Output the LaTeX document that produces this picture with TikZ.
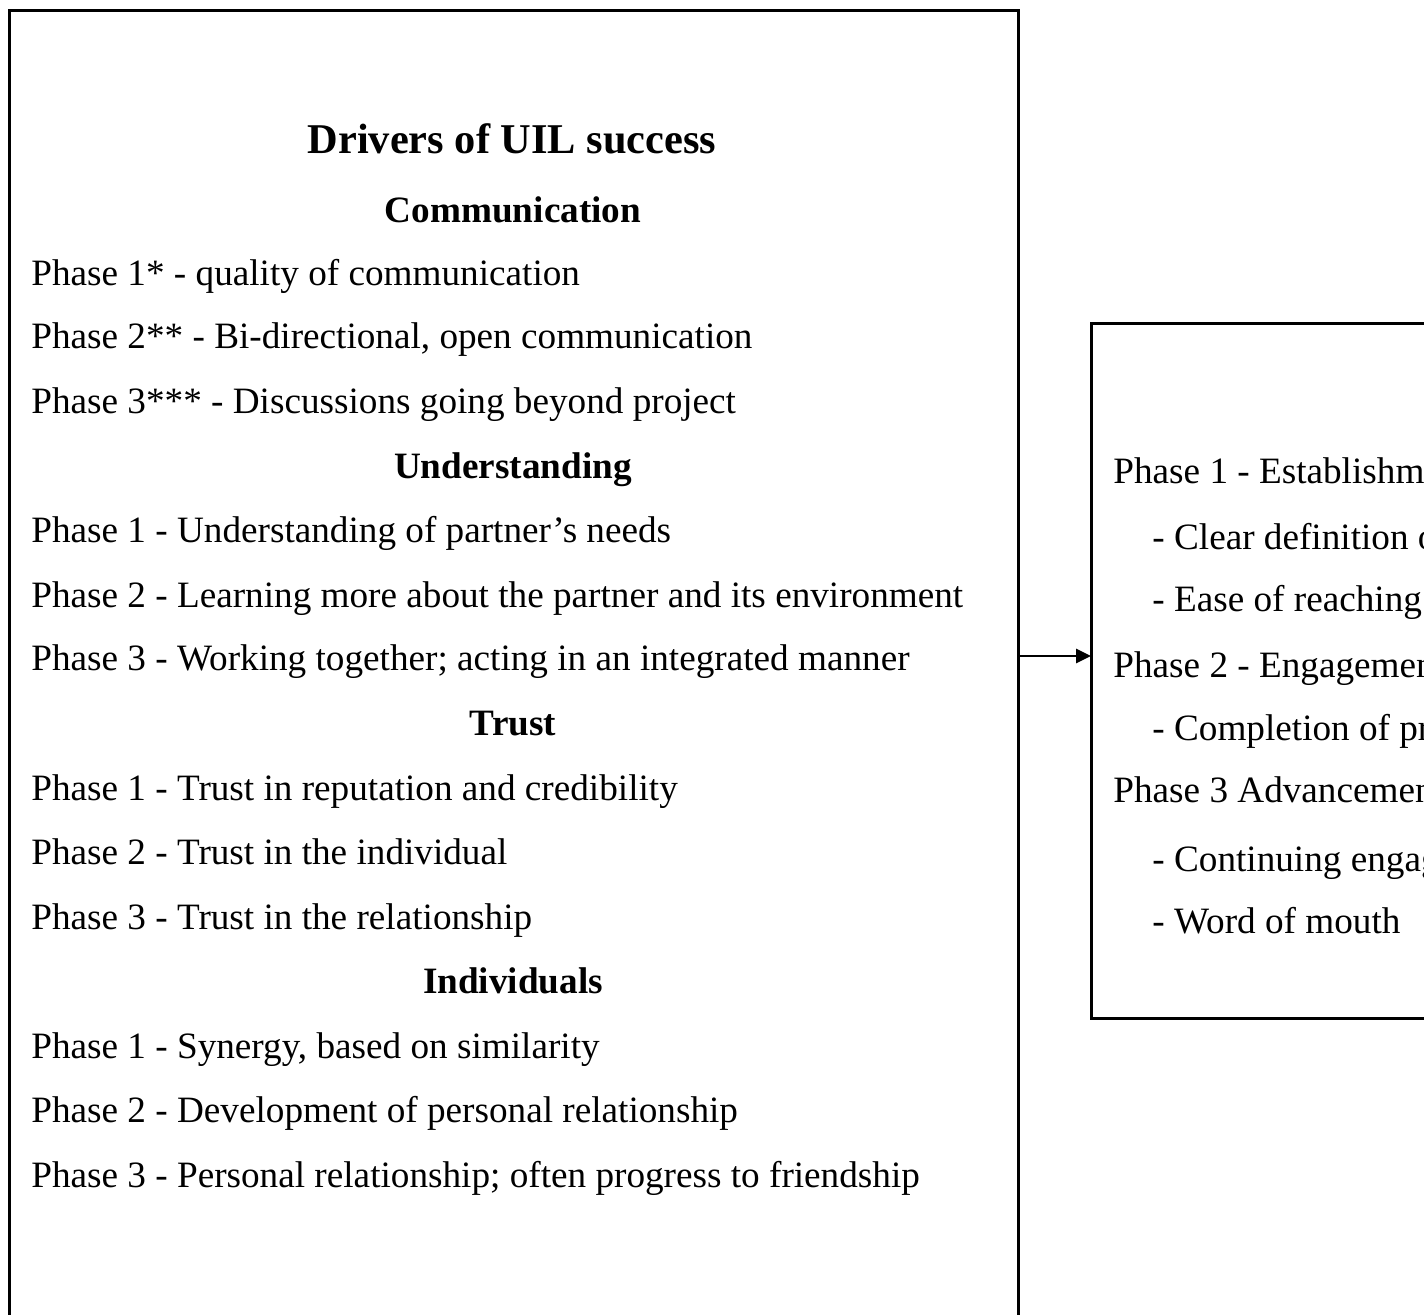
\documentclass[tikz,border=0pt]{standalone}
\usepackage{fontspec}
\setmainfont{Liberation Serif}
\usetikzlibrary{arrows.meta}
\begin{document}
\begin{tikzpicture}[x=0.5pt,y=-0.5pt,
  frame/.style={draw=black, line width=1.5pt, inner sep=0pt, outer sep=0pt},
  body/.style={anchor=base west, inner sep=0pt, font=\fontsize{18.6}{22}\selectfont},
  head/.style={anchor=base, inner sep=0pt, font=\fontsize{18.6}{22}\selectfont\bfseries},
  ttl/.style={anchor=base, inner sep=0pt, font=\fontsize{21.2}{25}\selectfont\bfseries},
  link/.style={line width=1.4pt, -{Triangle[length=7.5pt,width=7pt]}}]
\useasboundingbox (0,0) rectangle (1424,1314);
\clip (0,0) rectangle (1424,1314);

% the two frames
\node[frame, minimum width=504.5pt, minimum height=660pt] (drivers) at (513.5,670) {};
\node[frame, minimum width=200pt, minimum height=347.5pt] (outcomes) at (1291,670.5) {};

% left frame: title and group headings
\node[ttl] (title) at (512,153) {Drivers of UIL success};
\node[head] (hcomm) at (513,222) {Communication};
\node[head] (hund) at (513,478) {Understanding};
\node[head] (htrust) at (513,735) {Trust};
\node[head] (hind) at (513,993) {Individuals};

% left frame: phase lines
\foreach \y/\t in {
  285/{Phase 1* - quality of communication},
  348/{Phase 2** - Bi-directional, open communication},
  413/{Phase 3*** - Discussions going beyond project},
  542/{Phase 1 - Understanding of partner’s needs},
  607/{Phase 2 - Learning more about the partner and its environment},
  670/{Phase 3 - Working together; acting in an integrated manner},
  800/{Phase 1 - Trust in reputation and credibility},
  864/{Phase 2 - Trust in the individual},
  929/{Phase 3 - Trust in the relationship},
  1058/{Phase 1 - Synergy, based on similarity},
  1122/{Phase 2 - Development of personal relationship},
  1187/{Phase 3 - Personal relationship; often progress to friendship}}
  \node[body] (L\y) at (31,\y) {\t};

% right frame: phase lines
\foreach \x/\y/\t in {
  1113/483/{Phase 1 - Establishment},
  1152/549/{- Clear definition of objectives},
  1152/611/{- Ease of reaching agreement},
  1113/677/{Phase 2 - Engagement},
  1152/740/{- Completion of project},
  1113/802/{Phase 3 Advancement},
  1152/871/{- Continuing engagement},
  1152/933/{- Word of mouth}}
  \node[body] (R\y) at (\x,\y) {\t};

% connector
\coordinate (lvl) at (0,656);
\draw[link] (drivers.east |- lvl) -- (outcomes.west |- lvl);
\end{tikzpicture}
\end{document}
